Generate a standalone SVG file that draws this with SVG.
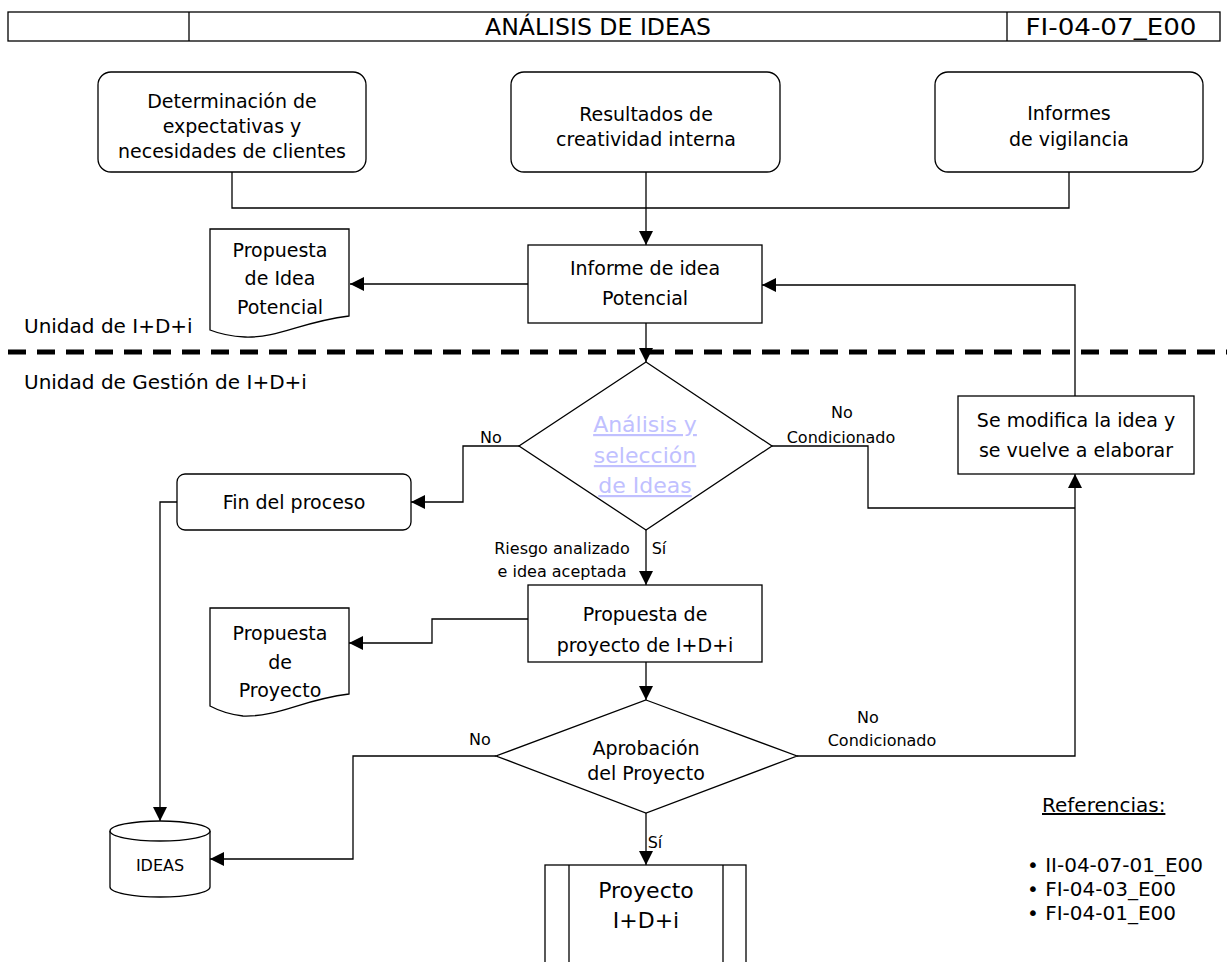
<svg xmlns="http://www.w3.org/2000/svg" width="1227" height="962" viewBox="0 0 1227 962">
  <style>
    text { font-family: "DejaVu Sans", "Liberation Sans", sans-serif; fill: #000; }
    .t { font-size: 19px; text-anchor: middle; }
    .s { font-size: 16px; text-anchor: middle; }
    .h { font-size: 23px; text-anchor: middle; }
    .lane { font-size: 20px; }
    .ref { font-size: 20px; }
    .link { font-size: 22px; text-anchor: middle; fill: #c0c0ff; text-decoration: underline; }
    .box { fill: #fff; stroke: #000; stroke-width: 1.3; }
    .conn path { fill: none; stroke: #000; stroke-width: 1.3; }
  </style>
  <defs>
    <marker id="arrow" markerUnits="userSpaceOnUse" markerWidth="14" markerHeight="14" viewBox="0 0 14 14" refX="14" refY="7" orient="auto">
      <path d="M0,0 L14,7 L0,14 Z" fill="#000"/>
    </marker>
  </defs>
  <rect width="1227" height="962" fill="#fff"/>

  <!-- header -->
  <g id="header">
    <rect class="box" x="8" y="12" width="1212" height="29"/>
    <line x1="189" y1="12" x2="189" y2="41" stroke="#000" stroke-width="1.3"/>
    <line x1="1007" y1="12" x2="1007" y2="41" stroke="#000" stroke-width="1.3"/>
    <text class="h" x="598" y="35" textLength="226" lengthAdjust="spacingAndGlyphs">ANÁLISIS DE IDEAS</text>
    <text class="h" x="1111" y="35" textLength="171" lengthAdjust="spacingAndGlyphs">FI-04-07_E00</text>
  </g>

  <!-- lane separator -->
  <g id="lanes">
    <line x1="8" y1="352" x2="1227" y2="352" stroke="#000" stroke-width="5" stroke-dasharray="18 11"/>
    <text class="lane" x="24" y="333">Unidad de I+D+i</text>
    <text class="lane" x="24" y="389">Unidad de Gestión de I+D+i</text>
  </g>

  <!-- connectors -->
  <g id="connectors" class="conn">
    <path d="M232,172 V208 H1069 V172"/>
    <path d="M646,172 V245" marker-end="url(#arrow)"/>
    <path d="M528,284 H350" marker-end="url(#arrow)"/>
    <path d="M646,323 V362" marker-end="url(#arrow)"/>
    <path d="M519,446 H463 V502 H411" marker-end="url(#arrow)"/>
    <path d="M177,502 H160 V821" marker-end="url(#arrow)"/>
    <path d="M772,446 H868 V508 H1075"/>
    <path d="M797,756 H1075 V474" marker-end="url(#arrow)"/>
    <path d="M1075,396 V285 H762" marker-end="url(#arrow)"/>
    <path d="M646,530 V585" marker-end="url(#arrow)"/>
    <path d="M528,619 H432 V643 H349" marker-end="url(#arrow)"/>
    <path d="M646,662 V700" marker-end="url(#arrow)"/>
    <path d="M496,756 H353 V859 H210" marker-end="url(#arrow)"/>
    <path d="M646,813 V865" marker-end="url(#arrow)"/>
  </g>

  <!-- connector labels -->
  <g id="labels">
    <text class="s" x="491" y="443">No</text>
    <text class="s" x="842" y="418">No</text>
    <text class="s" x="841" y="443">Condicionado</text>
    <text class="s" x="562" y="554">Riesgo analizado</text>
    <text class="s" x="562" y="577">e idea aceptada</text>
    <text class="s" x="659" y="554">Sí</text>
    <text class="s" x="480" y="745">No</text>
    <text class="s" x="868" y="723">No</text>
    <text class="s" x="882" y="746">Condicionado</text>
    <text class="s" x="655" y="848">Sí</text>
  </g>

  <g id="clientes">
    <rect class="box" x="98" y="72" width="268" height="100" rx="13"/>
    <text class="t" x="232" y="108">Determinación de</text>
    <text class="t" x="232" y="133">expectativas y</text>
    <text class="t" x="232" y="158">necesidades de clientes</text>
  </g>

  <g id="creatividad">
    <rect class="box" x="511" y="72" width="269" height="100" rx="13"/>
    <text class="t" x="646" y="121">Resultados de</text>
    <text class="t" x="646" y="146">creatividad interna</text>
  </g>

  <g id="vigilancia">
    <rect class="box" x="935" y="72" width="268" height="100" rx="13"/>
    <text class="t" x="1069" y="120">Informes</text>
    <text class="t" x="1069" y="146">de vigilancia</text>
  </g>

  <g id="informe">
    <rect class="box" x="528" y="245" width="234" height="78"/>
    <text class="t" x="645" y="275">Informe de idea</text>
    <text class="t" x="645" y="305">Potencial</text>
  </g>

  <g id="doc-idea">
    <path class="box" d="M210,229 H349 V316 C300,322 280,338 245,337 Q225,336 210,330 Z"/>
    <text class="t" x="280" y="257">Propuesta</text>
    <text class="t" x="280" y="285">de Idea</text>
    <text class="t" x="280" y="314">Potencial</text>
  </g>

  <g id="analisis">
    <polygon class="box" points="646,362 772,446 646,530 519,446"/>
    <text class="link" x="645" y="432">Análisis y</text>
    <text class="link" x="645" y="463">selección</text>
    <text class="link" x="645" y="493">de Ideas</text>
  </g>

  <g id="fin">
    <rect class="box" x="177" y="474" width="234" height="56" rx="8"/>
    <text class="t" x="294" y="509">Fin del proceso</text>
  </g>

  <g id="modifica">
    <rect class="box" x="958" y="396" width="236" height="78"/>
    <text class="t" x="1076" y="427">Se modifica la idea y</text>
    <text class="t" x="1076" y="457">se vuelve a elaborar</text>
  </g>

  <g id="propuesta">
    <rect class="box" x="528" y="585" width="234" height="77"/>
    <text class="t" x="645" y="621">Propuesta de</text>
    <text class="t" x="645" y="652">proyecto de I+D+i</text>
  </g>

  <g id="doc-proyecto">
    <path class="box" d="M210,608 H349 V694 C300,700 280,717 243,716 Q225,714 210,706 Z"/>
    <text class="t" x="280" y="640">Propuesta</text>
    <text class="t" x="280" y="669">de</text>
    <text class="t" x="280" y="697">Proyecto</text>
  </g>

  <g id="aprobacion">
    <polygon class="box" points="646,700 797,756 646,813 496,756"/>
    <text class="t" x="646" y="755">Aprobación</text>
    <text class="t" x="646" y="780">del Proyecto</text>
  </g>

  <g id="ideas">
    <path class="box" d="M110,831 V887 A50,10 0 0 0 210,887 V831"/>
    <ellipse class="box" cx="160" cy="831" rx="50" ry="10"/>
    <text class="s" x="160" y="871">IDEAS</text>
  </g>

  <g id="proyecto">
    <rect class="box" x="545" y="865" width="201" height="120"/>
    <line x1="569" y1="865" x2="569" y2="962" stroke="#000" stroke-width="1.3"/>
    <line x1="723" y1="865" x2="723" y2="962" stroke="#000" stroke-width="1.3"/>
    <text class="t" x="646" y="898" style="font-size:22px">Proyecto</text>
    <text class="t" x="646" y="928" style="font-size:22px">I+D+i</text>
  </g>

  <g id="referencias">
    <text class="ref" x="1042" y="812" text-decoration="underline">Referencias:</text>
    <text class="ref" x="1027" y="872">• II-04-07-01_E00</text>
    <text class="ref" x="1027" y="896">• FI-04-03_E00</text>
    <text class="ref" x="1027" y="920">• FI-04-01_E00</text>
  </g>
</svg>
